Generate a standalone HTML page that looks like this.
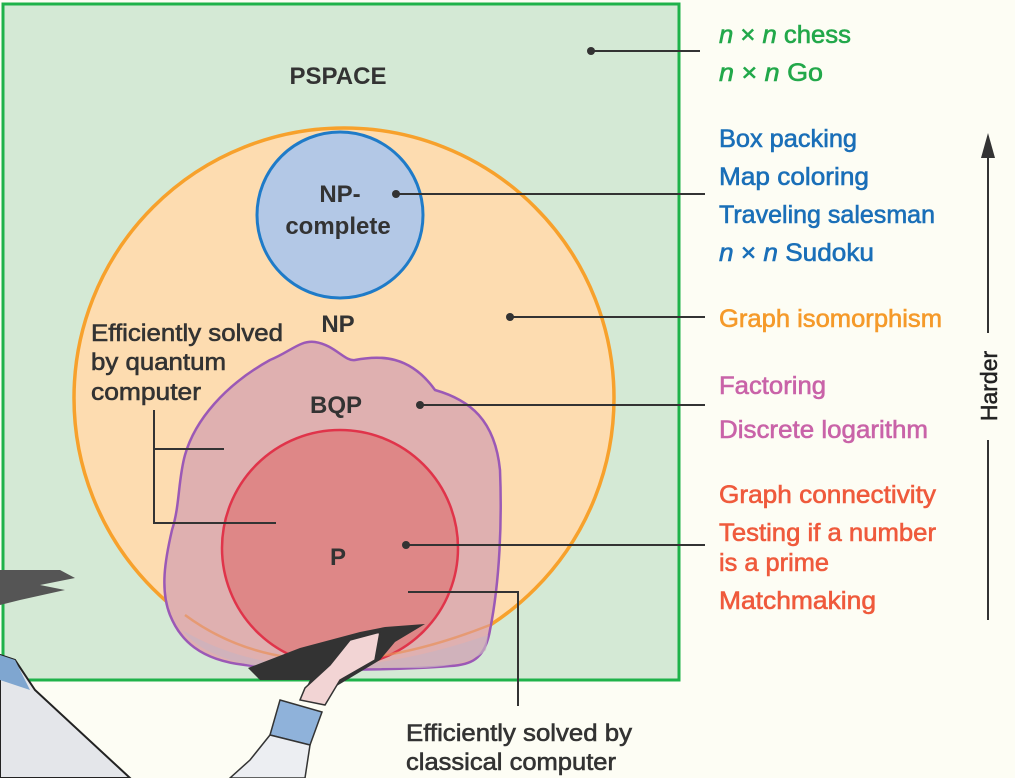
<!DOCTYPE html>
<html><head><meta charset="utf-8"><style>
html,body{margin:0;padding:0;background:#fdfdf4;}
svg{display:block;}
text{font-family:"Liberation Sans",sans-serif;}
</style></head><body>
<svg width="1015" height="778" viewBox="0 0 1015 778" xmlns="http://www.w3.org/2000/svg">
<rect x="0" y="0" width="1015" height="778" fill="#fdfdf4"/>
<rect x="3" y="4" width="676" height="676" fill="#d4e9d5" stroke="#1fb24a" stroke-width="3"/>
<circle cx="344" cy="398" r="270" fill="#fddcb0" stroke="#f7a12c" stroke-width="3.5"/>
<circle cx="340" cy="215" r="83" fill="#b3c8e6" stroke="#1f7bc8" stroke-width="3"/>
<path d="M170,615 C160,590 165,560 172,530 C180,505 178,480 185,455 C195,420 225,385 270,360 C290,352 300,340 315,342 C335,345 345,362 355,360 C380,355 410,355 435,390 C470,400 495,420 500,470 C502,520 500,580 490,630 C485,660 470,665 450,666 C400,670 300,672 245,665 C200,660 180,640 170,615 Z" fill="#dfb0b0" stroke="#9b59b6" stroke-width="2.5"/>
<path d="M182,630 Q300,700 488,635 L486,650 Q470,666 420,668 L270,668 Q205,660 182,630 Z" fill="#c9b4c0" opacity="0.7"/>
<circle cx="340" cy="548" r="118" fill="#de8787" stroke="#e0344a" stroke-width="2.5"/>
<path d="M185,615 Q300,700 490,625" fill="none" stroke="#e8915a" stroke-width="2.5" opacity="0.7"/>

<g font-weight="bold" fill="#333" font-size="24" text-anchor="middle">
<text x="338" y="84">PSPACE</text>
<text x="340" y="202">NP-</text>
<text x="338" y="234">complete</text>
<text x="338" y="332">NP</text>
<text x="336" y="413">BQP</text>
<text x="338" y="565">P</text>
</g>

<g stroke="#333" stroke-width="2" fill="none">
<line x1="591" y1="51" x2="700" y2="51"/>
<line x1="396" y1="194" x2="705" y2="194"/>
<line x1="510" y1="317" x2="705" y2="317"/>
<line x1="420" y1="405" x2="705" y2="405"/>
<line x1="406" y1="545" x2="705" y2="545"/>
<polyline points="408,592 518,592 518,706"/>
<polyline points="224,449 154,449"/>
<polyline points="154,410 154,523 276,523"/>
<line x1="988" y1="150" x2="988" y2="333"/>
<line x1="988" y1="440" x2="988" y2="620"/>
</g>
<g fill="#333">
<circle cx="591" cy="51" r="4"/>
<circle cx="396" cy="194" r="4"/>
<circle cx="510" cy="317" r="4"/>
<circle cx="420" cy="405" r="4"/>
<circle cx="406" cy="545" r="4"/>
<polygon points="988,133 981,158 995,158"/>
</g>
<text transform="translate(997,386) rotate(-90)" text-anchor="middle" font-size="23" fill="#222" stroke="#222" stroke-width="0.5">Harder</text>

<g font-size="24" fill="#333" stroke="#333" stroke-width="0.6">
<text x="91" y="341" textLength="192" lengthAdjust="spacingAndGlyphs">Efficiently solved</text>
<text x="91" y="370" textLength="135" lengthAdjust="spacingAndGlyphs">by quantum</text>
<text x="91" y="400" textLength="110" lengthAdjust="spacingAndGlyphs">computer</text>
<text x="406" y="741" textLength="226" lengthAdjust="spacingAndGlyphs">Efficiently solved by</text>
<text x="406" y="770" textLength="210" lengthAdjust="spacingAndGlyphs">classical computer</text>
</g>

<g font-size="25" stroke-width="0.6">
<text x="719" y="43" fill="#22a84a" stroke="#22a84a" textLength="132" lengthAdjust="spacingAndGlyphs"><tspan font-style="italic">n</tspan> × <tspan font-style="italic">n</tspan> chess</text>
<text x="719" y="81" fill="#22a84a" stroke="#22a84a" textLength="104" lengthAdjust="spacingAndGlyphs"><tspan font-style="italic">n</tspan> × <tspan font-style="italic">n</tspan> Go</text>
<g fill="#1a6fb8" stroke="#1a6fb8">
<text x="719" y="147" textLength="138" lengthAdjust="spacingAndGlyphs">Box packing</text>
<text x="719" y="185" textLength="150" lengthAdjust="spacingAndGlyphs">Map coloring</text>
<text x="719" y="223" textLength="216" lengthAdjust="spacingAndGlyphs">Traveling salesman</text>
<text x="719" y="261" textLength="155" lengthAdjust="spacingAndGlyphs"><tspan font-style="italic">n</tspan> × <tspan font-style="italic">n</tspan> Sudoku</text>
</g>
<text x="719" y="327" fill="#f59a2a" stroke="#f59a2a" textLength="223" lengthAdjust="spacingAndGlyphs">Graph isomorphism</text>
<g fill="#c963a8" stroke="#c963a8">
<text x="719" y="394" textLength="107" lengthAdjust="spacingAndGlyphs">Factoring</text>
<text x="719" y="438" textLength="209" lengthAdjust="spacingAndGlyphs">Discrete logarithm</text>
</g>
<g fill="#ef5a3c" stroke="#ef5a3c">
<text x="719" y="503" textLength="217" lengthAdjust="spacingAndGlyphs">Graph connectivity</text>
<text x="719" y="541" textLength="217" lengthAdjust="spacingAndGlyphs">Testing if a number</text>
<text x="719" y="571" textLength="110" lengthAdjust="spacingAndGlyphs">is a prime</text>
<text x="719" y="609" textLength="157" lengthAdjust="spacingAndGlyphs">Matchmaking</text>
</g>
</g>

<path d="M0,570 L60,570 L75,578 L40,585 L65,590 L20,600 L0,605 Z" fill="#555"/>
<path d="M0,655 L15,660 L35,690 L130,778 L0,778 Z" fill="#e4e6ea" stroke="#222" stroke-width="2"/>
<path d="M0,655 L15,660 L30,690 L0,680 Z" fill="#7fa6d0"/>
<path d="M248,668 L300,648 L360,632 L385,627 L425,624 L395,642 L380,660 L360,672 L330,690 L305,700 L300,700 L310,680 L260,680 Z" fill="#333"/>
<path d="M380,632 L375,660 L340,680 L325,705 L300,700 L305,688 L330,665 L350,640 Z" fill="#f2d4d4" stroke="#333" stroke-width="1.5"/>
<path d="M280,700 L322,712 L310,745 L270,735 Z" fill="#8fb2da" stroke="#333" stroke-width="1.5"/>
<path d="M270,735 L310,745 L305,778 L230,778 L250,760 Z" fill="#eceef2" stroke="#333" stroke-width="1.5"/>
</svg>
</body></html>
